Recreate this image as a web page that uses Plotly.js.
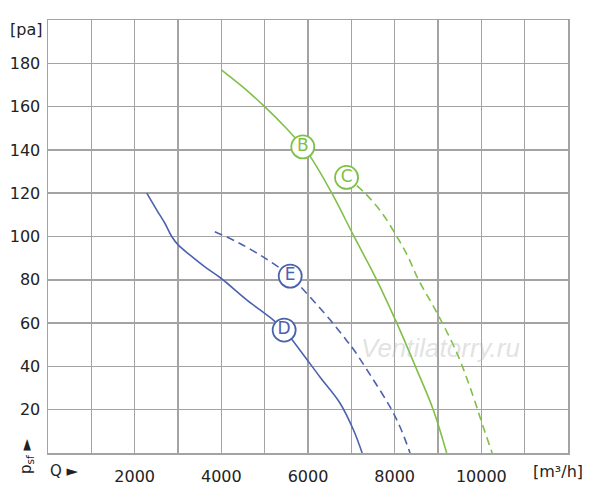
<!DOCTYPE html>
<html>
<head>
<meta charset="utf-8">
<script src="https://cdn.plot.ly/plotly-3.0.1.min.js"></script>
<style>html,body{margin:0;padding:0;background:#fff;}#chart{width:600px;height:504px;}</style>
</head>
<body>
<div id="chart"></div>
<script>
// Curve B (green, solid)
const bQ = [4000, 4500, 5000, 5500, 5880, 6050, 6550, 7050, 7585, 8050, 8500, 8890, 9200];
const bP = [177, 169, 160, 150, 141.4, 137, 120, 100.5, 80, 60, 39, 20, 0];
// Curve C (green, dashed)
const cQ = [6890, 7315, 7700, 8050, 8300, 8550, 8970, 9440, 9815, 10010, 10250];
const cP = [127.3, 120, 111, 100, 91, 80, 65, 46, 26, 14, 0];
// Curve D (blue, solid)
const dQ = [2280, 2510, 2700, 2855, 3010, 3280, 3620, 4000, 4600, 5200, 5450, 5815, 6280, 6740, 7050, 7250];
const dP = [120, 112.2, 106, 100, 96, 91.4, 86, 80.6, 70.5, 61.4, 56.8, 47.5, 35, 23, 10.6, 0];
// Curve E (blue, dashed)
const eQ = [3850, 4430, 5085, 5590, 5890, 6510, 6890, 7045, 7470, 7890, 8125, 8355];
const eP = [102.2, 96.8, 89, 81.7, 75.5, 61.5, 52, 48, 35, 21.4, 12, 0];
// Curve labels
const labelText = ['B', 'C', 'D', 'E'];
const labelQ = [5880, 6890, 5450, 5590];
const labelP = [141.4, 127.3, 56.8, 81.7];

const xTickVals = [0,1000,2000,3000,4000,5000,6000,7000,8000,9000,10000,11000,12000];
const xTickText = ['','','2000','','4000','','6000','','8000','','10000','',''];
const yTickVals = [0,20,40,60,80,100,120,140,160,180,200];
const yTickText = ['','20','40','60','80','100','120','140','160','180',''];

const GREEN = '#7fc046';
const BLUE = '#4b62ae';
const labelColors = [GREEN, GREEN, BLUE, BLUE];

const line = (x, y, color, dash) => ({
  x: x, y: y, type: 'scatter', mode: 'lines', hoverinfo: 'skip',
  line: {color: color, width: 1.6, dash: dash, shape: 'spline', smoothing: 1}
});

const traces = [
  line(bQ, bP, GREEN, 'solid'),
  line(cQ, cP, GREEN, '8px,5px'),
  line(dQ, dP, BLUE, 'solid'),
  line(eQ, eP, BLUE, '8px,5px'),
  {
    x: labelQ, y: labelP, text: labelText, type: 'scatter', mode: 'markers+text',
    textposition: 'middle center', hoverinfo: 'skip',
    marker: {size: 23, color: '#ffffff', line: {color: labelColors, width: 1.8}},
    textfont: {family: 'DejaVu Sans', size: 17, color: labelColors}
  }
];

const axisFont = {family: 'DejaVu Sans', size: 16, color: '#222'};
const layout = {
  width: 600, height: 504,
  margin: {l: 48, r: 32, t: 20, b: 51},
  paper_bgcolor: '#fff', plot_bgcolor: '#fff',
  showlegend: false,
  xaxis: {
    range: [0, 12000], tickvals: xTickVals, ticktext: xTickText,
    showgrid: true, gridcolor: '#a3a3a3', gridwidth: 1.5,
    showline: true, linecolor: '#a3a3a3', linewidth: 1.5, mirror: true,
    zeroline: false, ticks: '', tickfont: axisFont, ticklabelstandoff: 8
  },
  yaxis: {
    range: [0, 200], tickvals: yTickVals, ticktext: yTickText,
    showgrid: true, gridcolor: '#a3a3a3', gridwidth: 1.5,
    showline: true, linecolor: '#a3a3a3', linewidth: 1.5, mirror: true,
    zeroline: false, ticks: '', tickfont: axisFont, ticklabelstandoff: 3
  },
  annotations: [
    {text: '[pa]', xref: 'paper', x: 0, xanchor: 'right', xshift: -4, yref: 'y', y: 200, yanchor: 'middle', yshift: -9, showarrow: false, font: axisFont},
    {text: 'Q ►', xref: 'x', x: 0, xanchor: 'left', xshift: 0, yref: 'paper', y: 0, yanchor: 'middle', yshift: -18, showarrow: false, font: {family: 'DejaVu Sans', size: 15, color: '#222'}},
    {text: '[m³/h]', xref: 'paper', x: 1, xanchor: 'center', xshift: -10, yref: 'paper', y: 0, yanchor: 'middle', yshift: -18, showarrow: false, font: axisFont},
    {text: 'p<sub>sf</sub> ►', xref: 'paper', x: 0, xanchor: 'center', xshift: -22, yref: 'paper', y: 0, yanchor: 'middle', yshift: -4, textangle: -90, showarrow: false, font: {family: 'DejaVu Sans', size: 15, color: '#222'}},
    {text: 'Ventilatorry.ru', xref: 'paper', x: 0.754, xanchor: 'center', yref: 'paper', y: 0.242, yanchor: 'middle', showarrow: false, font: {family: 'Liberation Sans', size: 26, color: 'rgba(180,180,180,0.4)', style: 'italic'}}
  ]
};

Plotly.newPlot('chart', traces, layout, {staticPlot: true, displayModeBar: false});
</script>
</body>
</html>
